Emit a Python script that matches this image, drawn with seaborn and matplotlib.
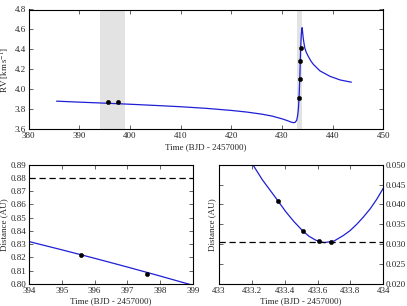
import matplotlib
matplotlib.use("Agg")
import matplotlib.pyplot as plt
import seaborn as sns
import numpy as np
import pandas as pd
from matplotlib.ticker import FormatStrFormatter, FuncFormatter

# ---- data ----
rv_model_t = [385.5, 390, 395, 400, 405, 410, 415, 420, 423, 426, 428, 430, 431, 431.8,
              432.3, 432.6, 432.9, 433.1, 433.25, 433.36, 433.51, 433.61, 433.68, 433.8,
              433.9, 433.98, 434.1, 434.2, 434.35, 434.5, 434.8, 435.2, 435.7, 436.2,
              437.5, 439.5, 441.5, 443.7]
rv_model_v = [3.882, 3.872, 3.862, 3.851, 3.839, 3.826, 3.810, 3.789, 3.773, 3.752, 3.733,
              3.705, 3.688, 3.672, 3.666, 3.670, 3.690, 3.740, 3.810, 3.910, 4.100, 4.280,
              4.410, 4.540, 4.600, 4.618, 4.560, 4.510, 4.460, 4.415, 4.370, 4.330, 4.285,
              4.250, 4.185, 4.130, 4.094, 4.072]
rv_obs_t = [395.6, 397.6, 433.36, 433.51, 433.61, 433.68]
rv_obs_v = [3.871, 3.871, 3.91, 4.10, 4.28, 4.41]
spans = [(394, 399), (433, 434)]

d1_model_t = [394, 395, 396, 397, 398, 399]
d1_model_d = [0.8320, 0.8258, 0.8194, 0.8128, 0.8060, 0.7990]
d1_obs_t = [395.6, 397.6]
d1_obs_d = [0.8218, 0.8078]
d1_limit = 0.88

d2_model_t = [433.19, 433.203, 433.264, 433.325, 433.359, 433.406, 433.456, 433.511,
              433.548, 433.59, 433.64, 433.7, 433.757, 433.797, 433.838, 433.878,
              433.92, 433.96, 434.0]
d2_model_d = [0.0510, 0.0502, 0.0462, 0.0428, 0.0409, 0.0382, 0.0357, 0.0333,
              0.0320, 0.0310, 0.0304, 0.0308, 0.0322, 0.0334, 0.0350, 0.0368,
              0.0389, 0.0413, 0.0441]
d2_obs_t = [433.36, 433.51, 433.61, 433.68]
d2_obs_d = [0.0409, 0.0333, 0.0307, 0.0306]
d2_limit = 0.0305

# ---- style ----
sns.set_style("ticks")
plt.rcParams["font.family"] = ["Liberation Serif", "DejaVu Serif"]
plt.rcParams["mathtext.fontset"] = "stix"
plt.rcParams.update({
    "xtick.direction": "in", "ytick.direction": "in",
    "xtick.top": True, "ytick.right": True,
    "xtick.major.size": 3, "ytick.major.size": 3,
    "xtick.major.width": 0.5, "ytick.major.width": 0.5,
    "xtick.labelsize": 6.5, "ytick.labelsize": 6.5,
    "axes.labelsize": 6.5, "axes.linewidth": 0.8,
    "xtick.major.pad": 2, "ytick.major.pad": 2,
    "axes.labelpad": 2,
})
line_col = "#1f1fd6"

W, H = 407, 306
fig = plt.figure(figsize=(W / 100, H / 100), dpi=100)

def ax_px(l, t, r, b):
    return fig.add_axes([l / W, 1 - b / H, (r - l) / W, (b - t) / H])

# Top panel
ax0 = ax_px(28.7, 9.5, 383.3, 129.3)
for a, b in spans:
    ax0.axvspan(a, b, color="#e3e3e3", lw=0, zorder=0)
sns.lineplot(x=rv_model_t, y=rv_model_v, ax=ax0, color=line_col, lw=0.9, sort=False, estimator=None)
sns.scatterplot(x=rv_obs_t, y=rv_obs_v, ax=ax0, color="black", s=10, edgecolor="black", linewidth=0.3, zorder=5)
ax0.set_xlim(380, 450)
ax0.set_ylim(3.6, 4.8)
ax0.set_xticks(np.arange(380, 451, 10))
ax0.set_yticks(np.arange(3.6, 4.81, 0.2))
ax0.yaxis.set_major_formatter(FormatStrFormatter("%.1f"))
ax0.set_xlabel("Time (BJD - 2457000)")
ax0.set_ylabel(r"RV [km$\,$s$^{-1}$]")

# Bottom left
ax1 = ax_px(29, 164.7, 193, 284)
sns.lineplot(x=d1_model_t, y=d1_model_d, ax=ax1, color=line_col, lw=0.9, sort=False, estimator=None)
sns.scatterplot(x=d1_obs_t, y=d1_obs_d, ax=ax1, color="black", s=10, edgecolor="black", linewidth=0.3, zorder=5)
ax1.axhline(d1_limit, color="black", ls=(0, (5, 3)), lw=0.9)
ax1.set_xlim(394, 399)
ax1.set_ylim(0.80, 0.89)
ax1.set_xticks(np.arange(394, 400, 1))
ax1.set_yticks(np.arange(0.80, 0.891, 0.01))
ax1.yaxis.set_major_formatter(FormatStrFormatter("%.2f"))
ax1.set_xlabel("Time (BJD - 2457000)")
ax1.set_ylabel("Distance (AU)")

# Bottom right
ax2 = ax_px(219, 164.7, 383.3, 284)
sns.lineplot(x=d2_model_t, y=d2_model_d, ax=ax2, color=line_col, lw=0.9, sort=False, estimator=None)
sns.scatterplot(x=d2_obs_t, y=d2_obs_d, ax=ax2, color="black", s=10, edgecolor="black", linewidth=0.3, zorder=5)
ax2.axhline(d2_limit, color="black", ls=(0, (5, 3)), lw=0.9)
ax2.set_xlim(433, 434)
ax2.set_ylim(0.020, 0.050)
ax2.set_xticks(np.arange(433, 434.01, 0.2))
ax2.set_yticks(np.arange(0.020, 0.0501, 0.005))
ax2.xaxis.set_major_formatter(FuncFormatter(lambda v, p: f"{round(v, 1):g}"))
ax2.yaxis.set_major_formatter(FormatStrFormatter("%.3f"))
ax2.yaxis.tick_right()
ax2.tick_params(axis="y", left=True, right=True, labelleft=False, labelright=True)
ax2.yaxis.set_label_position("left")
ax2.set_xlabel("Time (BJD - 2457000)")
ax2.set_ylabel("Distance (AU)")

for ax in (ax0, ax1, ax2):
    for s in ax.spines.values():
        s.set_color("black")

fig.savefig("out.png", dpi=100)
